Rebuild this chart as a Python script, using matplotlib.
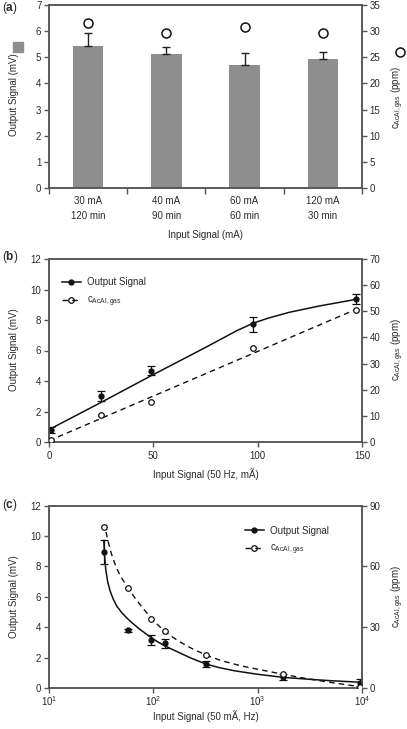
import matplotlib
matplotlib.use("Agg")
import matplotlib.pyplot as plt
from matplotlib.lines import Line2D
from matplotlib.patches import Rectangle
from matplotlib.ticker import FixedLocator, NullLocator, LogLocator, NullFormatter

plt.rcParams['font.family'] = ['Liberation Sans', 'DejaVu Sans']
plt.rcParams['mathtext.fontset'] = 'custom'
plt.rcParams['mathtext.rm'] = 'Liberation Sans'
plt.rcParams['mathtext.it'] = 'Liberation Sans:italic'
plt.rcParams['mathtext.bf'] = 'Liberation Sans:bold'

# ---------------- data ----------------
# (a)
cat_a = ["30 mA\n120 min", "40 mA\n90 min", "60 mA\n60 min", "120 mA\n30 min"]
out_a = [5.44, 5.13, 4.71, 4.93]
err_a = [0.47, 0.26, 0.45, 0.29]
conc_a = [31.6, 29.7, 30.8, 29.7]

# (b)
x_b = [1, 25, 49, 98, 147]
out_b = [0.79, 3.0, 4.68, 7.72, 9.38]
err_b = [0.2, 0.33, 0.3, 0.49, 0.32]
conc_b = [0.8, 10.3, 15.4, 36.1, 50.5]
fit_out_b_x = [0.5, 25, 49, 75, 90, 98, 105, 115, 130, 147]
fit_out_b_y = [0.85, 2.6, 4.35, 6.2, 7.3, 7.8, 8.12, 8.5, 8.93, 9.35]
fit_conc_b_x = [0, 147]
fit_conc_b_y = [0.5, 50.7]

# (c)
x_c = [33.5, 57, 95, 128, 318, 1750, 9500]
out_c = [8.97, 3.8, 3.17, 2.95, 1.58, 0.75, 0.38]
err_c = [0.78, 0.12, 0.33, 0.3, 0.2, 0.2, 0.22]
conc_c = [79.6, 49.5, 34.0, 28.2, 16.4, 6.9, 0.8]
fit_out_c_x = [33.5, 34.2, 35, 36.5, 38.5, 41, 44.6, 50, 57, 65, 75, 93, 110, 128, 150,
               180, 230, 318, 420, 600, 1000, 1750, 3000, 5000, 9500]
fit_out_c_y = [9.7, 8.6, 7.8, 7.0, 6.4, 5.9, 5.4, 4.95, 4.55, 4.2, 3.85, 3.38, 3.05, 2.8,
               2.57, 2.32, 1.98, 1.6, 1.37, 1.15, 0.92, 0.72, 0.6, 0.5, 0.4]
fit_conc_c_x = [35.2, 37, 39.5, 43, 48, 57, 65, 74.6, 85, 97, 110, 128, 150, 180, 230,
                318, 450, 700, 1000, 1750, 3000, 5000, 9500]
fit_conc_c_y = [77, 72, 66.5, 61, 55.5, 49.5, 45.3, 41.2, 37.6, 34.3, 31.3, 28.2, 25.5,
                22.8, 19.8, 16.4, 13.6, 11.0, 9.4, 6.9, 4.7, 2.9, 0.8]

# ---------------- style ----------------
W, H = 407, 729
TXT = '#2a2a2a'
SPN = '#555555'
BAR = '#8e8e8e'
FS = 7

fig = plt.figure(figsize=(W / 100, H / 100), dpi=100)


def fx(x):
    return x / W


def fy(y):
    return 1 - y / H


def make_ax(top, bottom):
    return fig.add_axes([fx(49), fy(bottom), fx(362) - fx(49), (bottom - top) / H])


def style(ax):
    for s in ax.spines.values():
        s.set_color(SPN)
        s.set_linewidth(1.1)
    ax.tick_params(which='both', direction='out', length=3.5, width=1, color=SPN,
                   labelsize=FS, labelcolor=TXT, pad=2)


conc_label = r'c$_{\mathrm{AcAl,gas}}$ (ppm)'

# ================= (a) =================
axA = make_ax(5, 188)
centers = [i + 0.5 for i in range(len(cat_a))]
axA.bar(centers, out_a, width=0.39, color=BAR, zorder=2)
axA.errorbar(centers, out_a, yerr=[[0] * len(err_a), err_a], fmt='none',
             ecolor='#222222', elinewidth=1, capsize=3, capthick=1, zorder=3)
axA.set_xlim(0, len(cat_a))
axA.set_ylim(0, 7)
axA.set_yticks(range(0, 8))
axA.xaxis.set_major_locator(FixedLocator(range(0, len(cat_a) + 1)))
axA.xaxis.set_major_formatter(NullFormatter())
axA.xaxis.set_minor_locator(FixedLocator(centers))
axA.set_xticklabels(cat_a, minor=True, linespacing=1.55)
style(axA)
axA.tick_params(axis='x', which='major', length=4)
axA.tick_params(axis='x', which='minor', length=0, pad=6)
axA2 = axA.twinx()
axA2.plot(centers, conc_a, 'o', ms=6.5, mfc='white', mec='#111111', mew=1.1, zorder=4)
axA2.set_ylim(0, 35)
axA2.set_yticks(range(0, 36, 5))
style(axA2)
axA.set_xlabel('Input Signal (mA)', fontsize=FS, color=TXT, labelpad=7)

fig.text(fx(14), fy(95), 'Output Signal (mV)', rotation=90, ha='center', va='center',
         fontsize=FS, color=TXT)
fig.text(fx(398), fy(98), conc_label, rotation=90, ha='center', va='center',
         fontsize=FS, color=TXT)
fig.add_artist(Rectangle((fx(13.5), fy(52)), fx(9.5), 9.5 / H, transform=fig.transFigure,
                         color=BAR))
fig.add_artist(Line2D([fx(400)], [fy(52)], marker='o', ms=6.5, mfc='white', mec='#111111',
                      mew=1.1, transform=fig.transFigure))
fig.text(fx(2), fy(8), r'($\mathbf{a}$)', ha='left', va='center', fontsize=8.5, color=TXT)

# ================= (b) =================
axB = make_ax(259, 442)
axB.plot(fit_out_b_x, fit_out_b_y, '-', color='#111111', lw=1.1, zorder=2)
axB.errorbar(x_b, out_b, yerr=err_b, fmt='o', ms=3.5, color='#111111', ecolor='#111111',
             elinewidth=0.9, capsize=2.8, capthick=0.9, zorder=3)
axB.set_xlim(0, 150)
axB.set_ylim(0, 12)
axB.set_xticks([0, 50, 100, 150])
axB.set_yticks(range(0, 13, 2))
style(axB)
axB.tick_params(axis='x', pad=3)
axB.set_xlabel('Input Signal (50 Hz, mÃ)', fontsize=FS, color=TXT, labelpad=5)
axB2 = axB.twinx()
axB2.plot(fit_conc_b_x, fit_conc_b_y, color='#111111', lw=1.0, ls=(0, (4, 3)), zorder=2)
axB2.plot(x_b, conc_b, 'o', ms=4, mfc='white', mec='#111111', mew=0.9, zorder=3)
axB2.set_ylim(0, 70)
axB2.set_yticks(range(0, 71, 10))
style(axB2)

h1 = Line2D([], [], color='#111111', lw=1.1, marker='o', ms=3.5)
h2 = Line2D([], [], color='#111111', lw=1.0, ls=(0, (4, 3)), marker='o', ms=4,
            mfc='none', mec='#111111', mew=0.9)
leg = axB2.legend([h1, h2], ['Output Signal', r'c$_{\mathrm{AcAl,gas}}$'],
                  loc='upper left', bbox_to_anchor=(0.04, 0.9), frameon=False,
                  fontsize=FS, handlelength=2.0, handletextpad=0.6, labelspacing=0.75,
                  borderpad=0, borderaxespad=0)
for t in leg.get_texts():
    t.set_color(TXT)

fig.text(fx(14), fy(350), 'Output Signal (mV)', rotation=90, ha='center', va='center',
         fontsize=FS, color=TXT)
fig.text(fx(398), fy(350), conc_label, rotation=90, ha='center', va='center',
         fontsize=FS, color=TXT)
fig.text(fx(2), fy(257), r'($\mathbf{b}$)', ha='left', va='center', fontsize=8.5, color=TXT)

# ================= (c) =================
axC = make_ax(505.5, 688.3)
axC.set_xscale('log')
axC.plot(fit_out_c_x, fit_out_c_y, '-', color='#111111', lw=1.1, zorder=2)
axC.errorbar(x_c, out_c, yerr=err_c, fmt='o', ms=3.5, color='#111111', ecolor='#111111',
             elinewidth=0.9, capsize=2.8, capthick=0.9, zorder=3)
axC.set_xlim(10, 1e4)
axC.set_ylim(0, 12)
axC.xaxis.set_major_locator(LogLocator(base=10, numticks=10))
axC.xaxis.set_minor_locator(NullLocator())
axC.set_yticks(range(0, 13, 2))
style(axC)
axC.tick_params(axis='x', pad=0.5)
axC.set_xlabel('Input Signal (50 mÃ, Hz)', fontsize=FS, color=TXT, labelpad=2)
axC2 = axC.twinx()
axC2.plot(fit_conc_c_x, fit_conc_c_y, color='#111111', lw=1.0, ls=(0, (4, 3)), zorder=2)
axC2.plot(x_c, conc_c, 'o', ms=4, mfc='white', mec='#111111', mew=0.9, zorder=3)
axC2.set_ylim(0, 90)
axC2.set_yticks([0, 30, 60, 90])
style(axC2)
axC2.xaxis.set_minor_locator(NullLocator())

leg = axC2.legend([h1, h2], ['Output Signal', r'c$_{\mathrm{AcAl,gas}}$'],
                  loc='upper left', bbox_to_anchor=(0.625, 0.89), frameon=False,
                  fontsize=FS, handlelength=2.0, handletextpad=0.6, labelspacing=0.75,
                  borderpad=0, borderaxespad=0)
for t in leg.get_texts():
    t.set_color(TXT)

fig.text(fx(14), fy(597), 'Output Signal (mV)', rotation=90, ha='center', va='center',
         fontsize=FS, color=TXT)
fig.text(fx(398), fy(597), conc_label, rotation=90, ha='center', va='center',
         fontsize=FS, color=TXT)
fig.text(fx(2), fy(505), r'($\mathbf{c}$)', ha='left', va='center', fontsize=8.5, color=TXT)

fig.savefig('out.png', dpi=100)
